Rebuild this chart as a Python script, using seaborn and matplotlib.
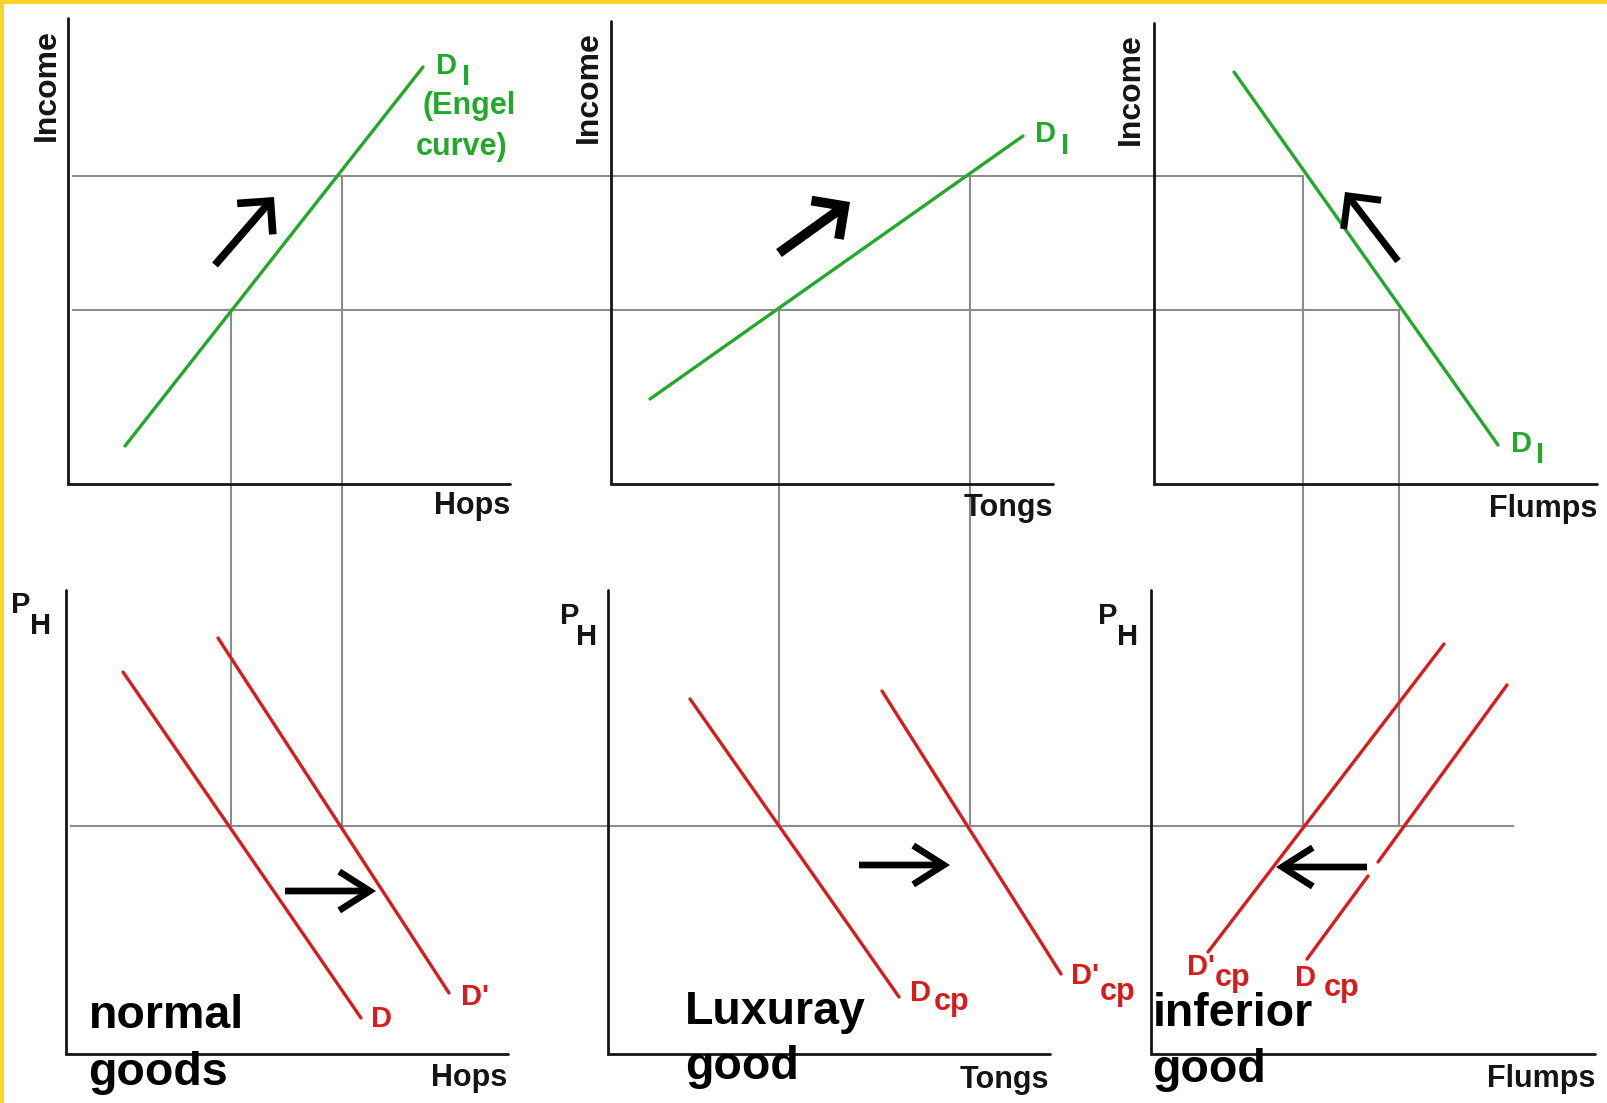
import matplotlib
matplotlib.use("Agg")
import matplotlib.pyplot as plt
from matplotlib.patches import FancyArrowPatch
import pandas as pd
import seaborn as sns

sns.set_style("white")
plt.rcParams["font.family"] = ["Liberation Sans", "DejaVu Sans"]

# Canvas is laid out in pixel units, y grows downward
W, H = 1608, 1103

# ---- Engel curves (income against quantity) ----
engel_hops_x = [125, 423]
engel_hops_y = [446, 67]
engel_tongs_x = [650, 1023]
engel_tongs_y = [399, 136]
engel_flumps_x = [1234, 1498]
engel_flumps_y = [72, 445]

# ---- Demand curves (price against quantity) ----
demand_hops_x = [123, 361]
demand_hops_y = [672, 1018]
demand_hops_new_x = [218, 449]
demand_hops_new_y = [638, 993]
demand_tongs_x = [690, 899]
demand_tongs_y = [699, 997]
demand_tongs_new_x = [882, 1061]
demand_tongs_new_y = [691, 974]
demand_flumps_new_x = [1208, 1444]
demand_flumps_new_y = [952, 644]
demand_flumps_low_x = [1307, 1368]
demand_flumps_low_y = [959, 876]
demand_flumps_high_x = [1378, 1507]
demand_flumps_high_y = [862, 685]

# ---- Guide levels ----
income_levels = [176, 310]          # high income, low income
income_guide_end = [1304, 1400]
price_level = 826
price_guide_end = 1514
quantity_guides_x = [231, 342, 779, 970, 1303, 1399]
quantity_guides_top = [310, 176, 310, 176, 176, 310]

# ---- Panel frames ----
top_origin_x = [68, 611, 1154]
top_end_x = [510, 1053, 1597]
top_top_y = [18, 21, 23]
top_base_y = 484
bottom_origin_x = [66, 608, 1151]
bottom_end_x = [508, 1050, 1595]
bottom_top_y = [590, 590, 590]
bottom_base_y = 1054

goods_names = ["Hops", "Tongs", "Flumps"]
categories = [["normal", "goods"], ["Luxuray", "good"], ["inferior", "good"]]

GREEN = "#22a92a"
RED = "#d81c1c"
GRAY = "#8c8c8c"
INK = "#151515"

fig = plt.figure(figsize=(W / 100, H / 100), dpi=100, facecolor="white")
ax = fig.add_axes([0, 0, 1, 1])
ax.set_axis_off()

# yellow frame edges
ax.axhspan(0, 4, color="#ffd42a", lw=0, zorder=0)
ax.axvspan(0, 4, color="#ffd42a", lw=0, zorder=0)

# guide lines
for lvl, end in zip(income_levels, income_guide_end):
    ax.hlines(lvl, 72, end, color=GRAY, lw=1.5, zorder=1)
ax.hlines(price_level, 70, price_guide_end, color=GRAY, lw=1.5, zorder=1)
for gx, gt in zip(quantity_guides_x, quantity_guides_top):
    ax.vlines(gx, gt, price_level, color=GRAY, lw=1.5, zorder=1)

# panel axes
for x0, x1, yt in zip(top_origin_x, top_end_x, top_top_y):
    ax.plot([x0, x0, x1], [yt, top_base_y, top_base_y], color=INK, lw=2.0,
            solid_joinstyle="miter", zorder=2)
for x0, x1, yt in zip(bottom_origin_x, bottom_end_x, bottom_top_y):
    ax.plot([x0, x0, x1], [yt, bottom_base_y, bottom_base_y], color=INK, lw=2.0,
            solid_joinstyle="miter", zorder=2)

# curves through seaborn
curves = {
    "engel_hops": (engel_hops_x, engel_hops_y, "engel"),
    "engel_tongs": (engel_tongs_x, engel_tongs_y, "engel"),
    "engel_flumps": (engel_flumps_x, engel_flumps_y, "engel"),
    "d_hops": (demand_hops_x, demand_hops_y, "demand"),
    "d_hops_new": (demand_hops_new_x, demand_hops_new_y, "demand"),
    "d_tongs": (demand_tongs_x, demand_tongs_y, "demand"),
    "d_tongs_new": (demand_tongs_new_x, demand_tongs_new_y, "demand"),
    "d_flumps_new": (demand_flumps_new_x, demand_flumps_new_y, "demand"),
    "d_flumps_low": (demand_flumps_low_x, demand_flumps_low_y, "demand"),
    "d_flumps_high": (demand_flumps_high_x, demand_flumps_high_y, "demand"),
}
rows = []
for name, (xs, ys, kind) in curves.items():
    for x, y in zip(xs, ys):
        rows.append({"curve": name, "x": x, "y": y, "kind": kind})
df = pd.DataFrame(rows)
sns.lineplot(data=df, x="x", y="y", units="curve", estimator=None, sort=False,
             hue="kind", palette={"engel": GREEN, "demand": RED},
             legend=False, linewidth=2.4, ax=ax, zorder=3)

ax.set_xlim(0, W)
ax.set_ylim(H, 0)
ax.set_axis_off()


def arrow(tail, head, lw, hl, hw):
    ax.add_patch(FancyArrowPatch(
        tail, head, arrowstyle=f"->,head_length={hl},head_width={hw}",
        mutation_scale=1, lw=lw, color="black", shrinkA=0, shrinkB=0,
        capstyle="butt", joinstyle="miter", zorder=4))


# income shift arrows along the Engel curves
arrow((215, 265), (274, 197), 5.5, 17, 17)
arrow((779, 253), (850, 202), 7.0, 17, 17)
arrow((1398, 261), (1345, 192), 5.0, 17, 17)
# demand shift arrows
arrow((285, 891), (376, 891), 4.8, 22, 14)
arrow((859, 865), (950, 865), 4.8, 22, 14)
arrow((1367, 867), (1276, 867), 4.8, 22, 14)


def put(x, y, s, size, color=INK, **kw):
    ax.text(x, y, s, fontsize=size, color=color, fontweight="bold",
            va=kw.pop("va", "baseline"), ha=kw.pop("ha", "left"), zorder=5, **kw)


# axis titles
for cx, cy in [(47, 85), (589, 87), (1131, 89)]:
    put(cx, cy, "Income", 23, rotation=90, ha="center", va="center")
for name, xr, yb in zip(goods_names, top_end_x, [514, 516, 517]):
    put(xr, yb, name, 22, ha="right")
for name, xr, yb in zip(goods_names, [507, 1049, 1595], [1086, 1088, 1087]):
    put(xr, yb, name, 22, ha="right")
for (px, py), (hx, hy) in [((11, 613), (30, 634)), ((560, 624), (576, 645)),
                           ((1098, 624), (1117, 645))]:
    put(px, py, "P", 21)
    put(hx, hy, "H", 21)

# Engel curve labels
put(436, 74, "D", 21, GREEN)
put(462, 85, "I", 21, GREEN)
put(423, 114, "(Engel", 22, GREEN)
put(416, 155, "curve)", 22, GREEN)
put(1035, 142, "D", 21, GREEN)
put(1061, 154, "I", 21, GREEN)
put(1511, 452, "D", 21, GREEN)
put(1536, 463, "I", 21, GREEN)

# demand curve labels
put(371, 1027, "D", 21, RED)
put(461, 1005, "D'", 21, RED)
put(910, 1001, "D", 21, RED)
put(934, 1010, "cp", 22, RED)
put(1071, 984, "D'", 21, RED)
put(1100, 1000, "cp", 22, RED)
put(1187, 975, "D'", 21, RED)
put(1215, 986, "cp", 22, RED)
put(1295, 986, "D", 21, RED)
put(1324, 996, "cp", 22, RED)

# kind of good
for (w1, w2), x, y1, y2 in zip(categories, [88.5, 685, 1152.5],
                               [1028, 1024, 1026], [1085, 1079, 1082]):
    put(x, y1, w1, 33.5, "black")
    put(x, y2, w2, 33.5, "black")

fig.savefig("out.png", dpi=100, facecolor="white")
